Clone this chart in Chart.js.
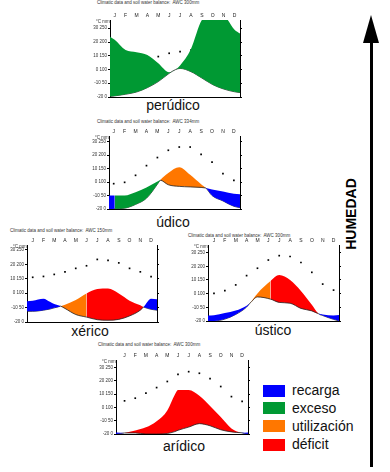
<!DOCTYPE html>
<html>
<head>
<meta charset="utf-8">
<script src="https://cdn.jsdelivr.net/npm/chart.js@4.4.1/dist/chart.umd.min.js"></script>
<style>
  html, body { margin: 0; padding: 0; background: #fff; }
  #fig { position: relative; width: 390px; height: 472px; overflow: hidden; font-family: "Liberation Sans", Arial, sans-serif; }
  #fig canvas { position: absolute; }
  .name { position: absolute; font-size: 14px; line-height: 14px; color: #111; transform: translateX(-50%); white-space: nowrap; }
  .tiny { position: absolute; font-size: 4.5px; line-height: 5px; color: #333; white-space: nowrap; }
  .sw { position: absolute; left: 263px; width: 22px; height: 12px; }
  .lg { position: absolute; left: 292px; font-size: 14px; line-height: 14px; color: #111; }
  #shaft { position: absolute; left: 370px; top: 38px; width: 3px; height: 429px; background: #000; }
  #head { position: absolute; left: 363px; top: 15px; width: 0; height: 0; border-left: 8.5px solid transparent; border-right: 8.5px solid transparent; border-bottom: 28px solid #000; }
  #hum { position: absolute; left: 351px; top: 214px; font-size: 14px; font-weight: bold; line-height: 14px; color: #000; transform: translate(-50%, -50%) rotate(-90deg); white-space: nowrap; }
</style>
</head>
<body>
<div id="fig">
  <div class="tiny" style="left:97px;top:0px">Climatic data and soil water balance:&nbsp; AWC 300mm</div>
  <div class="tiny" style="left:97px;top:119px">Climatic data and soil water balance:&nbsp; AWC 334mm</div>
  <div class="tiny" style="left:10px;top:228px">Climatic data and soil water balance:&nbsp; AWC 150mm</div>
  <div class="tiny" style="left:188px;top:233px">Climatic data and soil water balance:&nbsp; AWC 300mm</div>
  <div class="tiny" style="left:98px;top:342px">Climatic data and soil water balance:&nbsp; AWC 300mm</div>

  <div class="name" style="left:173px;top:98px">perúdico</div>
  <div class="name" style="left:173px;top:215px">údico</div>
  <div class="name" style="left:90px;top:324px">xérico</div>
  <div class="name" style="left:273px;top:323px">ústico</div>
  <div class="name" style="left:184px;top:439px">arídico</div>

  <div class="sw" style="top:385px;background:#0000ff"></div>
  <div class="sw" style="top:402px;background:#009933"></div>
  <div class="sw" style="top:420px;background:#ff7700"></div>
  <div class="sw" style="top:439px;background:#ff0000"></div>
  <div class="lg" style="top:383px">recarga</div>
  <div class="lg" style="top:401px">exceso</div>
  <div class="lg" style="top:419px">utilización</div>
  <div class="lg" style="top:437px">déficit</div>

  <div id="shaft"></div>
  <div id="head"></div>
  <div id="hum">HUMEDAD</div>
</div>
<script>
const months = ['J', 'F', 'M', 'A', 'M', 'J', 'J', 'A', 'S', 'O', 'N', 'D'];
const monthIdx = [0, 1, 2, 3, 4, 5, 6, 7, 8, 9, 10, 11];

// zone codes between two consecutive points: r = recarga, e = exceso, u = utilización, d = déficit
const zoneColor = { r: '#0000ff', e: '#009933', u: '#ff7700', d: '#ff0000' };

// perúdico
const perX    = [-0.43, 0, 1, 2, 3, 4, 5, 5.6, 6, 7, 8, 9, 10, 11, 11.5];
const perP    = [219, 208, 171, 163, 153, 123, 90, 100, 115, 175, 280, 300, 295, 245, 231];
const perPET  = [2, 4, 10, 18, 34, 56, 86, 100, 104, 92, 69, 45, 29, 19, 16];
const perZone = ['e', 'e', 'e', 'e', 'e', 'e', 'e', 'e', 'e', 'e', 'e', 'e', 'e', 'e'];
const perTemp = [0.4, 1.4, 2.8, 5.8, 9.4, 11.8, 13, 14.2, 11.8, 8.2, 4.6, 2.2];

// údico
const udiX    = [-0.43, 0.1, 1, 2, 3, 4, 4.25, 5, 6, 7, 8, 8.44, 9, 10, 11, 11.56];
const udiP    = [50, 50, 50, 62, 80, 102, 107, 90, 84, 82, 80, 78, 72, 65, 57, 55];
const udiPET  = [0, 1, 3, 17, 40, 92, 107, 134, 155, 127, 92, 78, 50, 30, 10, 5];
const udiZone = ['r', 'e', 'e', 'e', 'e', 'e', 'u', 'u', 'u', 'u', 'u', 'r', 'r', 'r', 'r'];
const udiTemp = [-1.2, -0.2, 5, 12.2, 18.2, 23.6, 26, 26, 20.6, 14.8, 6.2, 1.2];

// xérico
const xerX    = [-0.53, 0, 1, 1.6, 2, 2.6, 3, 4, 5, 6, 7, 8, 9, 10, 10.3, 11, 11.55];
const xerP    = [72, 74, 81, 70, 62, 55, 47, 26, 17, 8, 6, 9, 21, 41, 52, 81, 79];
const xerPET  = [37, 37, 41, 45, 49, 55, 60, 76, 99, 114, 116, 99, 74, 58, 52, 44, 41];
const xerZone = ['r', 'r', 'r', 'r', 'r', 'u', 'u', 'u', 'd', 'd', 'd', 'd', 'd', 'd', 'r', 'r'];
const xerTemp = [11, 11.6, 13, 14.8, 17.2, 19, 23.4, 22.8, 21, 17.2, 14.8, 11.4];

// ústico
const ustX    = [-0.55, 0, 1, 2, 3, 3.3, 4, 5.2, 6, 7, 8, 9, 9.6, 10, 11, 11.5];
const ustP    = [20, 21, 29, 38, 56, 65, 88, 80, 68, 65, 46, 37, 27, 24, 20, 22];
const ustPET  = [0, 0, 7, 24, 51, 65, 101, 146, 168, 150, 110, 59, 27, 20, 6, 0];
const ustZone = ['r', 'r', 'r', 'r', 'r', 'u', 'u', 'd', 'd', 'd', 'd', 'd', 'r', 'r', 'r'];
const ustTemp = [0.2, 2.2, 6.4, 13.2, 18.6, 24.6, 27.8, 27.2, 22.8, 15.6, 7, 2.6];

// arídico
const ariX    = [-0.8, 0, 1, 2, 3, 4, 4.7, 5, 6, 7, 8, 9, 10, 10.9, 11.55];
const ariP    = [6, 4, 4, 0, 0, 2, 9, 14, 26, 39, 31, 16, 8, 5, 6];
const ariPET  = [0, 4, 13, 25, 48, 89, 148, 166, 166, 144, 106, 64, 21, 5, 0];
const ariZone = ['r', 'd', 'd', 'd', 'd', 'd', 'd', 'd', 'd', 'd', 'd', 'd', 'd', 'r'];
const ariTemp = [5, 7, 10.8, 15, 19.6, 25, 27, 25.8, 21.8, 15.8, 8.2, 4.6];

// plot boxes [left, top, right, bottom] and top of the mm axis
const panels = [
  { box: [110, 20, 240, 97],  ymax: 280, xs: perX, P: perP, PET: perPET, zones: perZone, temp: perTemp },
  { box: [109, 136, 240, 209], ymax: 271, xs: udiX, P: udiP, PET: udiPET, zones: udiZone, temp: udiTemp },
  { box: [27, 245, 157, 322],  ymax: 267, xs: xerX, P: xerP, PET: xerPET, zones: xerZone, temp: xerTemp },
  { box: [208, 245, 339, 321], ymax: 278, xs: ustX, P: ustP, PET: ustPET, zones: ustZone, temp: ustTemp },
  { box: [116, 360, 248, 434], ymax: 279, xs: ariX, P: ariP, PET: ariPET, zones: ariZone, temp: ariTemp }
];

const fig = document.getElementById('fig');
const tinyFont = { family: '"Liberation Sans", Arial, sans-serif', size: 4.5, lineHeight: 1 };
const WL = 18, WR = 4, HT = 8, HB = 6;

panels.forEach(function (p) {
  const [x0, y0, x1, y1] = p.box;
  const cv = document.createElement('canvas');
  cv.width = x1 - x0 + WL + WR;
  cv.height = y1 - y0 + HT + HB;
  cv.style.left = (x0 - WL) + 'px';
  cv.style.top = (y0 - HT) + 'px';
  fig.appendChild(cv);

  // little "°C mm" header over the left axis
  const hd = document.createElement('div');
  hd.className = 'tiny';
  hd.style.left = (x0 - 14) + 'px';
  hd.style.top = (y0 - 1) + 'px';
  hd.textContent = '°C mm';
  fig.appendChild(hd);

  const xMin = p.xs[0], xMax = p.xs[p.xs.length - 1];
  const zoneOf = c => p.zones[c.p0DataIndex];

  new Chart(cv, {
    type: 'line',
    data: {
      datasets: [
        {
          data: p.xs.map((x, i) => ({ x: x, y: p.P[i] })),
          fill: '+1',
          pointRadius: 0,
          borderWidth: 0.8,
          cubicInterpolationMode: 'monotone',
          segment: {
            backgroundColor: c => zoneColor[zoneOf(c)],
            borderColor: c => (zoneOf(c) === 'u' || zoneOf(c) === 'd') ? '#222' : 'rgba(0,0,0,0)'
          }
        },
        {
          data: p.xs.map((x, i) => ({ x: x, y: p.PET[i] })),
          fill: false,
          pointRadius: 0,
          borderWidth: 0.8,
          cubicInterpolationMode: 'monotone',
          segment: {
            borderColor: c => (zoneOf(c) === 'r' || zoneOf(c) === 'e') ? '#222' : 'rgba(0,0,0,0)'
          }
        },
        {
          data: monthIdx.map(i => ({ x: i, y: p.temp[i] })),
          yAxisID: 'yT',
          showLine: false,
          pointStyle: 'rect',
          pointRadius: 1.2,
          pointBorderWidth: 0,
          pointBackgroundColor: '#000'
        }
      ]
    },
    options: {
      responsive: false,
      animation: false,
      devicePixelRatio: 1,
      layout: { padding: 0 },
      plugins: { legend: { display: false }, tooltip: { enabled: false }, title: { display: false } },
      scales: {
        x: {
          type: 'linear', position: 'bottom', min: xMin, max: xMax,
          grid: { display: false, drawTicks: false },
          border: { color: '#000', width: 1 },
          ticks: { display: false },
          afterFit: s => { s.height = HB; }
        },
        xTop: {
          type: 'linear', position: 'top', min: xMin, max: xMax,
          grid: { display: false, drawTicks: false },
          border: { display: false },
          ticks: { font: { family: tinyFont.family, size: 5, lineHeight: 1 }, color: '#222', padding: 1.5, maxRotation: 0, autoSkip: false,
                   callback: v => months[v] },
          afterBuildTicks: s => { s.ticks = monthIdx.map(i => ({ value: i })); },
          afterFit: s => { s.height = HT; }
        },
        y: {
          position: 'left', min: 0, max: p.ymax,
          ticks: { stepSize: 50, includeBounds: false, font: tinyFont, color: '#333', padding: 1,
                   callback: v => ((v - 100) / 5) + ' ' + v },
          grid: { drawOnChartArea: false, tickLength: 2, color: '#000' },
          border: { color: '#000', width: 1 },
          afterFit: s => { s.width = WL; }
        },
        yT: {
          position: 'right', min: -20, max: (p.ymax - 100) / 5,
          ticks: { display: false, stepSize: 10, includeBounds: false },
          grid: { drawOnChartArea: false, tickLength: 2, color: '#000' },
          border: { color: '#000', width: 1 },
          afterFit: s => { s.width = WR; }
        }
      }
    }
  });
});
</script>
</body>
</html>
